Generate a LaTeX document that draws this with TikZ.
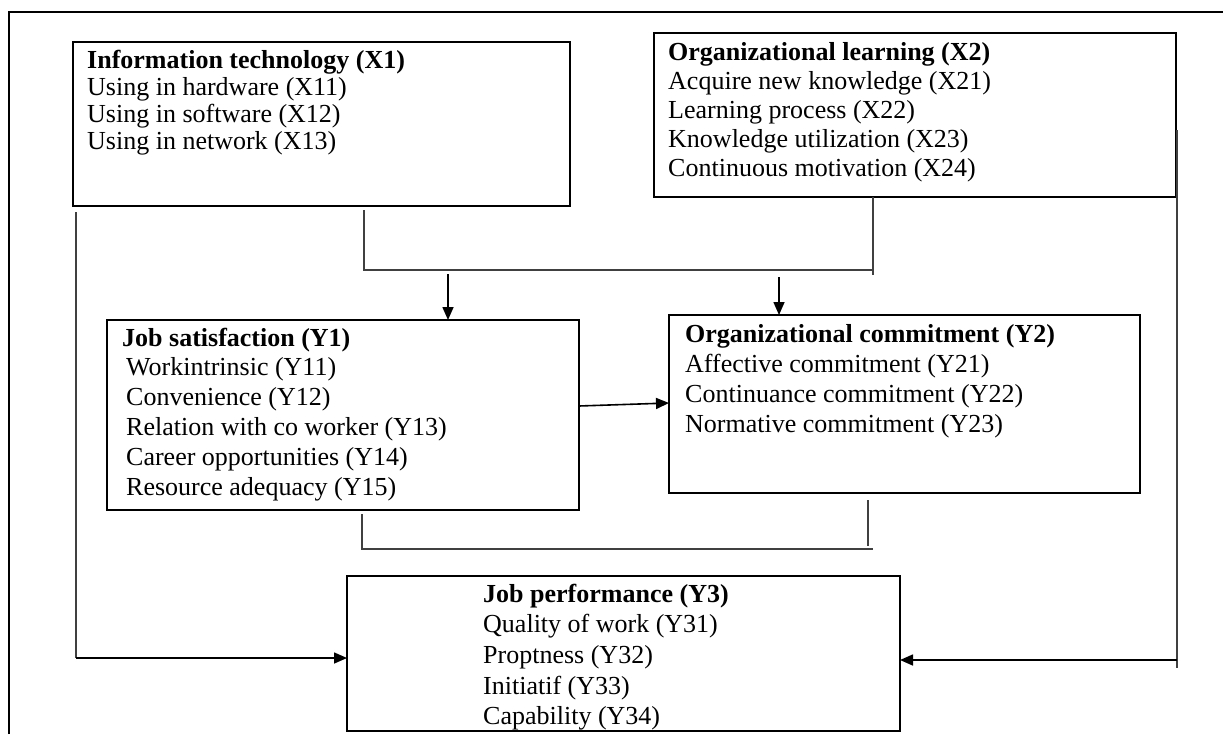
\documentclass[tikz,border=0pt]{standalone}
\usepackage{fontspec}
\setmainfont{Liberation Serif}
\usetikzlibrary{arrows.meta}
\begin{document}
\begin{tikzpicture}[x=1pt,y=-1pt,
  box/.style={draw, line width=1.8pt, inner sep=0pt, outer sep=0pt, anchor=north west},
  conn/.style={line width=1.3pt, draw=black!75},
  arr/.style={line width=1.6pt, draw=black, -{Triangle[length=13pt,width=11pt]}},
  lbl/.style={anchor=base west, inner sep=0pt, font=\fontsize{26}{30}\selectfont},
  ttl/.style={anchor=base west, inner sep=0pt, font=\fontsize{26}{30}\selectfont\bfseries}]
\useasboundingbox (0,0) rectangle (1223,734);
% frame
\draw[line width=1.8pt] (9,734) -- (9,12) -- (1223,12);
% boxes
\node[box, minimum width=497pt, minimum height=164pt] (it) at (73,42) {};
\node[box, minimum width=522pt, minimum height=164pt] (ol) at (654,33) {};
\node[box, minimum width=472pt, minimum height=190pt] (js) at (107,320) {};
\node[box, minimum width=471pt, minimum height=178pt] (oc) at (669,315) {};
\node[box, minimum width=553pt, minimum height=155pt] (jp) at (347,576) {};
% texts IT
\node[ttl] (it0) at (87,68) {Information technology (X1)};
\node[lbl] (it1) at (87,95) {Using in hardware (X11)};
\node[lbl] (it2) at (87,122) {Using in software (X12)};
\node[lbl] (it3) at (87,149) {Using in network (X13)};
% texts OL
\node[ttl] (ol0) at (668,60) {Organizational learning (X2)};
\node[lbl] (ol1) at (668,89) {Acquire new knowledge (X21)};
\node[lbl] (ol2) at (668,118) {Learning process (X22)};
\node[lbl] (ol3) at (668,147) {Knowledge utilization (X23)};
\node[lbl] (ol4) at (668,176) {Continuous motivation (X24)};
% texts JS
\node[ttl] (js0) at (122,346) {Job satisfaction (Y1)};
\node[lbl] (js1) at (126,375) {Workintrinsic (Y11)};
\node[lbl] (js2) at (126,405) {Convenience (Y12)};
\node[lbl] (js3) at (126,435) {Relation with co worker (Y13)};
\node[lbl] (js4) at (126,465) {Career opportunities (Y14)};
\node[lbl] (js5) at (126,495) {Resource adequacy (Y15)};
% texts OC
\node[ttl] (oc0) at (685,342) {Organizational commitment (Y2)};
\node[lbl] (oc1) at (685,372) {Affective commitment (Y21)};
\node[lbl] (oc2) at (685,402) {Continuance commitment (Y22)};
\node[lbl] (oc3) at (685,432) {Normative commitment (Y23)};
% texts JP
\node[ttl] (jp0) at (483,602) {Job performance (Y3)};
\node[lbl] (jp1) at (483,632) {Quality of work (Y31)};
\node[lbl] (jp2) at (483,663) {Proptness (Y32)};
\node[lbl] (jp3) at (483,694) {Initiatif (Y33)};
\node[lbl] (jp4) at (483,724) {Capability (Y34)};
% top merge
\coordinate (a1) at (364,210);
\coordinate (a2) at (364,270);
\coordinate (a3) at (873,270);
\coordinate (a4) at (873,275);
\draw[conn] (a1) -- (a2) -- (a3);
\draw[conn] (ol.south -| a3) -- (a4);
\coordinate (b1) at (448,274);
\coordinate (b2) at (779,277);
\draw[arr] (b1) -- (b1 |- js.north);
\draw[arr] (b2) -- (b2 |- oc.north);
% JS -> OC
\draw[arr] ([yshift=9pt]js.east) -- ([yshift=1pt]oc.west);
% bottom merge
\coordinate (c1) at (362,514);
\coordinate (c2) at (362,549);
\coordinate (c3) at (873,549);
\coordinate (c4) at (868,500);
\coordinate (c5) at (868,546);
\draw[conn] (c1) -- (c2) -- (c3);
\draw[conn] (c4) -- (c5);
% left path
\coordinate (d1) at (76,212);
\coordinate (d2) at (76,658);
\draw[conn] (d1) -- (d2);
\draw[arr] (d2) -- (d2 -| jp.west);
% right path
\coordinate (e1) at (1177,130);
\coordinate (e2) at (1177,668);
\coordinate (e3) at (1177,660);
\draw[conn] (e1) -- (e2);
\draw[arr] (e3) -- (e3 -| jp.east);
\end{tikzpicture}
\end{document}
